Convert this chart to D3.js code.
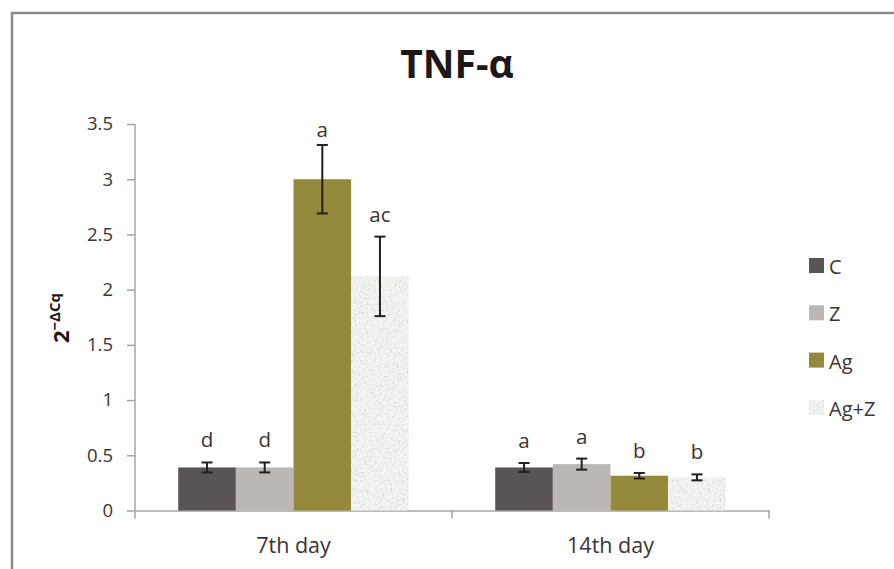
<!DOCTYPE html>
<html>
<head>
<meta charset="utf-8">
<script src="https://cdn.jsdelivr.net/npm/d3@7/dist/d3.min.js"></script>
<style>
  html, body { margin: 0; padding: 0; background: #fff; }
  svg { display: block; font-family: "Open Sans", "Noto Sans", sans-serif; }
</style>
</head>
<body>
<svg id="chart" width="894" height="569"></svg>
<script>
// TNF-α relative expression (2^-ΔCq) by day and treatment group
const days = ["7th day", "14th day"];
const groups = ["C", "Z", "Ag", "Ag+Z"];
const groupColors = ["#5a5454", "#bab7b5", "#958a3b", "#f3f3f2"];

// mean values per day, in group order
const means7 = [0.39, 0.39, 3.00, 2.12];
const means14 = [0.39, 0.42, 0.315, 0.30];
// error bar half-widths
const errs7 = [0.045, 0.045, 0.31, 0.36];
const errs14 = [0.04, 0.05, 0.025, 0.027];
// significance letters
const letters7 = ["d", "d", "a", "ac"];
const letters14 = ["a", "a", "b", "b"];

const yTicks = [0, 0.5, 1, 1.5, 2, 2.5, 3, 3.5];
const yMax = 3.5;

const rows = [
  { day: days[0], means: means7, errs: errs7, letters: letters7 },
  { day: days[1], means: means14, errs: errs14, letters: letters14 }
];

const svg = d3.select("#chart");
const textColor = "#3a3536";
const axisColor = "#a6a4a4";

// speckled fill for the Ag+Z series
const defs = svg.append("defs");
const f = defs.append("filter").attr("id", "speckle")
  .attr("x", 0).attr("y", 0).attr("width", 1).attr("height", 1);
f.append("feTurbulence").attr("type", "fractalNoise")
  .attr("baseFrequency", 0.5).attr("numOctaves", 3).attr("seed", 7).attr("result", "n");
f.append("feColorMatrix").attr("in", "n").attr("type", "matrix")
  .attr("values", "0 0 0 0 0.70  0 0 0 0 0.69  0 0 0 0 0.69  3.6 0 0 0 -1.8")
  .attr("result", "dots");
f.append("feComposite").attr("in", "dots").attr("in2", "SourceGraphic").attr("operator", "atop");

// outer frame
svg.append("rect")
  .attr("x", 12).attr("y", 13).attr("width", 900).attr("height", 600)
  .attr("fill", "none").attr("stroke", "#8c8b8b").attr("stroke-width", 2.5);

// title
svg.append("text")
  .attr("x", 457).attr("y", 78)
  .attr("text-anchor", "middle")
  .attr("font-size", 39).attr("font-weight", 700)
  .attr("fill", "#1c1819")
  .text("TNF-α");

const plot = { left: 135, right: 769, top: 124, bottom: 510.5 };

const x = d3.scaleBand().domain(days).range([plot.left, plot.right]).paddingInner(0).paddingOuter(0);
const y = d3.scaleLinear().domain([0, yMax]).range([plot.bottom, plot.top]);

// groups within a day: gap width 150% of a bar
const barW = x.bandwidth() / (groups.length + 1.5);
const xg = d3.scaleBand().domain(groups)
  .range([0.75 * barW, 0.75 * barW + groups.length * barW]).padding(0);

// y axis
const yAxis = svg.append("g")
  .attr("transform", `translate(${plot.left},0)`)
  .call(d3.axisLeft(y).tickValues(yTicks).tickFormat(d3.format("~g")).tickSize(8).tickPadding(14));
yAxis.select(".domain").attr("stroke", axisColor).attr("stroke-width", 1.5).attr("d", `M-0,${plot.bottom}V${plot.top}`);
yAxis.selectAll(".tick line").attr("stroke", axisColor).attr("stroke-width", 1.5);
yAxis.selectAll(".tick text").attr("font-size", 18.5).attr("fill", textColor)
  .attr("font-family", "'Open Sans', sans-serif");

// x axis
const xAxis = svg.append("g")
  .attr("transform", `translate(0,${plot.bottom})`)
  .call(d3.axisBottom(x).tickSize(0).tickPadding(27));
xAxis.select(".domain").attr("stroke", axisColor).attr("stroke-width", 1.5);
xAxis.selectAll(".tick text").attr("font-size", 21.5).attr("fill", textColor)
  .attr("font-family", "'Open Sans', sans-serif");
// category boundary tick marks
const bounds = [plot.left].concat(days.map(d => x(d) + x.bandwidth()));
xAxis.selectAll("line.bound").data(bounds).join("line")
  .attr("class", "bound")
  .attr("x1", d => d).attr("x2", d => d)
  .attr("y1", 0).attr("y2", 8)
  .attr("stroke", axisColor).attr("stroke-width", 1.5);

// y axis title: 2^-ΔCq
const yTitle = svg.append("text")
  .attr("transform", "translate(69,318) rotate(-90)")
  .attr("text-anchor", "middle")
  .attr("font-weight", 700).attr("fill", "#1c1819");
yTitle.append("tspan").attr("font-size", 22).text("2");
yTitle.append("tspan").attr("font-size", 15).attr("dy", -9).text("−ΔCq");

// bars
const dayG = svg.selectAll("g.day").data(rows).join("g")
  .attr("class", "day")
  .attr("transform", d => `translate(${x(d.day)},0)`);

const items = d => groups.map((g, i) => ({
  group: g, i, value: d.means[i], err: d.errs[i], letter: d.letters[i]
}));

dayG.selectAll("rect.bar").data(items).join("rect")
  .attr("class", "bar")
  .attr("x", d => xg(d.group))
  .attr("width", xg.bandwidth())
  .attr("y", d => y(d.value))
  .attr("height", d => y(0) - y(d.value))
  .attr("fill", d => groupColors[d.i])
  .attr("filter", d => d.group === "Ag+Z" ? "url(#speckle)" : null);

// error bars
const errColor = "#231f20";
const capW = 11;
const eb = dayG.selectAll("g.err").data(items).join("g").attr("class", "err")
  .attr("stroke", errColor).attr("stroke-width", 2);
eb.append("line")
  .attr("x1", d => xg(d.group) + xg.bandwidth() / 2).attr("x2", d => xg(d.group) + xg.bandwidth() / 2)
  .attr("y1", d => y(d.value + d.err)).attr("y2", d => y(d.value - d.err));
eb.append("line")
  .attr("x1", d => xg(d.group) + xg.bandwidth() / 2 - capW / 2).attr("x2", d => xg(d.group) + xg.bandwidth() / 2 + capW / 2)
  .attr("y1", d => y(d.value + d.err)).attr("y2", d => y(d.value + d.err));
eb.append("line")
  .attr("x1", d => xg(d.group) + xg.bandwidth() / 2 - capW / 2).attr("x2", d => xg(d.group) + xg.bandwidth() / 2 + capW / 2)
  .attr("y1", d => y(d.value - d.err)).attr("y2", d => y(d.value - d.err));

// significance letters above the error bars, kept inside the plot area
dayG.selectAll("text.letter").data(items).join("text")
  .attr("class", "letter")
  .attr("x", d => xg(d.group) + xg.bandwidth() / 2)
  .attr("y", d => Math.max(y(d.value + d.err) - 15, plot.top + 13))
  .attr("text-anchor", "middle")
  .attr("font-size", 20.5).attr("fill", textColor)
  .text(d => d.letter);

// legend
const legend = svg.append("g").attr("transform", "translate(809,258)");
const li = legend.selectAll("g").data(groups).join("g")
  .attr("transform", (d, i) => `translate(0,${i * 47.3})`);
li.append("rect")
  .attr("width", 15).attr("height", 15)
  .attr("fill", (d, i) => groupColors[i])
  .attr("filter", d => d === "Ag+Z" ? "url(#speckle)" : null);
li.append("text")
  .attr("x", 20).attr("y", 16)
  .attr("font-size", 20).attr("fill", textColor)
  .text(d => d);
</script>
</body>
</html>
